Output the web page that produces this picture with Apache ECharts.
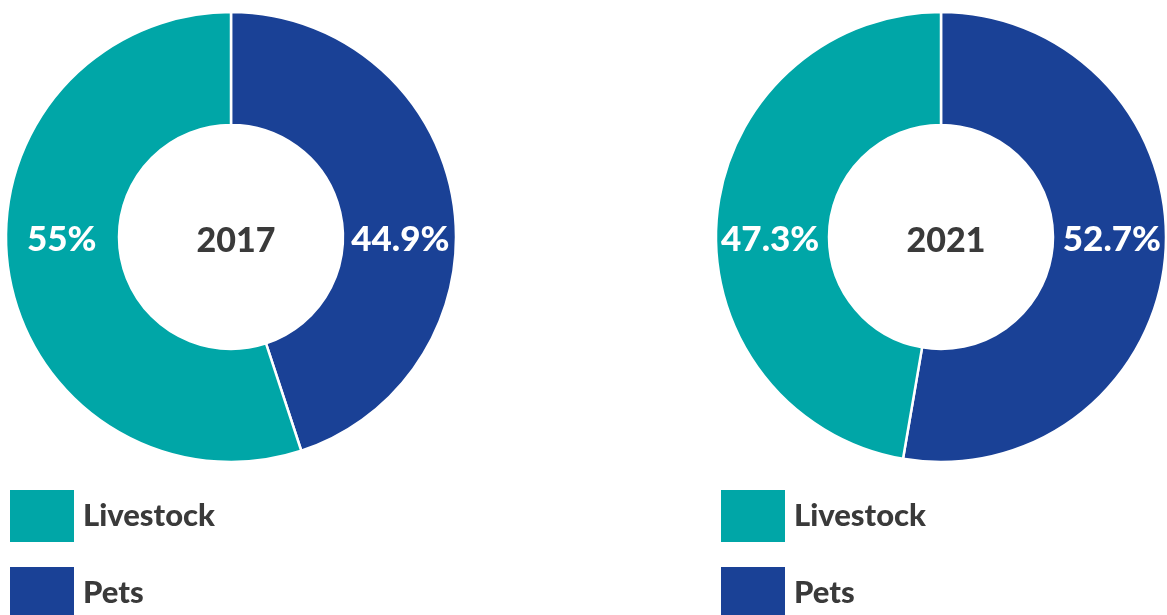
<!DOCTYPE html>
<html><head><meta charset="utf-8">
<script src="https://cdn.jsdelivr.net/npm/echarts@6/dist/echarts.min.js"></script>
<style>html,body{margin:0;padding:0;background:#fff}#c{width:1167px;height:615px}</style>
</head><body><div id="c"></div>
<script>
const categories = ['Pets', 'Livestock'];
const legendOrder = ['Livestock', 'Pets'];
const years = ['2017', '2021'];
const values2017 = [44.9, 55];
const values2021 = [52.7, 47.3];
const colors = { Pets: '#1a4196', Livestock: '#00a6a7' };

const centers = [[231, 237], [941, 237]];
const FONT = 'Lato';
const WEIGHT = 900;
const chart = echarts.init(document.getElementById('c'), null, { renderer: 'canvas' });

function mkSeries(idx, vals) {
  return {
    type: 'pie',
    name: years[idx],
    center: centers[idx],
    radius: [112, 225],
    startAngle: 90,
    clockwise: true,
    avoidLabelOverlap: false,
    itemStyle: { borderColor: '#fff', borderWidth: 2.5 },
    label: {
      show: true, position: 'inside',
      formatter: p => p.value + '%',
      color: '#fff', fontFamily: FONT, fontWeight: WEIGHT, fontSize: 35
    },
    labelLayout: () => ({ y: 240 }),
    labelLine: { show: false },
    emphasis: { disabled: true },
    data: categories.map((c, i) => ({ name: c, value: vals[i], itemStyle: { color: colors[c] } }))
  };
}

function mkLegend(left, top, name) {
  return {
    orient: 'vertical', left: left, top: top, padding: 0,
    itemWidth: 64, itemHeight: 52,
    icon: 'rect',
    selectedMode: false,
    data: [name],
    itemStyle: { borderWidth: 0 },
    textStyle: { fontFamily: FONT, fontWeight: WEIGHT, fontSize: 31, color: '#3a3a3a', padding: [0, 0, 0, 4] }
  };
}

const legendLefts = [10, 721];
const legendTops = [490, 567];
const legends = [];
legendLefts.forEach(l => legendOrder.forEach((n, j) => legends.push(mkLegend(l, legendTops[j], n))));

chart.setOption({
  animation: false,
  title: years.map((y, i) => ({
    text: y, left: centers[i][0], top: 219, textAlign: 'center',
    textStyle: { fontFamily: FONT, fontWeight: WEIGHT, fontSize: 34, color: '#3a3a3a' }
  })),
  legend: legends,
  series: [mkSeries(0, values2017), mkSeries(1, values2021)]
});
</script></body></html>
